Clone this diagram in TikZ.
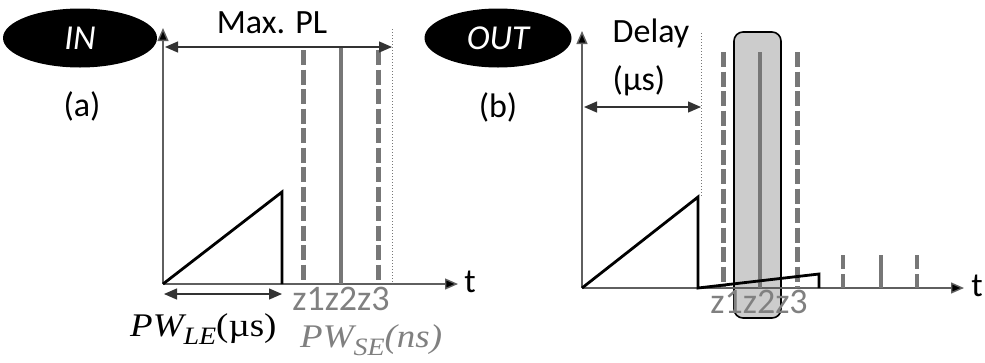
\documentclass[tikz,border=0pt]{standalone}
\usepackage{fontspec}
\setmainfont{Carlito}
\newfontfamily\serifmu{Liberation Serif}[FakeStretch=1.12]
\usetikzlibrary{arrows.meta,shapes.geometric}
\definecolor{linegray}{HTML}{777777}
\definecolor{txtgray}{HTML}{808080}
\definecolor{boxgray}{HTML}{CCCCCC}
% italic symbol with a lowered subscript, followed by a bracketed unit
\newcommand{\pwsym}[3]{{\serifmu\fontsize{33}{36}\selectfont\itshape #1%
  \raisebox{-8pt}{\fontsize{25}{27}\selectfont #2}#3}}
\tikzset{
  tag/.style={ellipse, fill=black, text=white, inner sep=0pt,
    font=\fontsize{35}{38}\selectfont\itshape},
  lbl/.style={inner sep=0pt, font=\fontsize{34}{38}\selectfont},
  glbl/.style={inner sep=0pt, anchor=base, text=txtgray,
    font=\fontsize{36}{38}\selectfont},
  axisline/.style={draw=linegray!80!black, line width=1.4pt,
    -{Triangle[length=13pt,width=11pt,fill=black]}},
  dimarrow/.style={draw=black!80, line width=1.3pt,
    {Triangle[length=13pt,width=11pt]}-{Triangle[length=13pt,width=11pt]}},
  ramp/.style={draw=black, line width=2.8pt, line join=miter},
  zdash/.style={draw=linegray, line width=5pt, dash pattern=on 15pt off 4.5pt},
  zsolid/.style={draw=linegray, line width=4pt},
  guide/.style={draw=linegray, line width=1pt, dotted},
  gate/.style={draw=black, line width=1.6pt, fill=boxgray, rounded corners=9pt}
}
\begin{document}
\begin{tikzpicture}[x=1pt,y=-1pt]
\useasboundingbox (0,0) rectangle (985,362);

% ---------- (a) input pulse ----------
\node[tag, minimum width=154pt, minimum height=59pt] (in) at (80,38) {IN};
\node[lbl] (la) at (82,106) {(a)};
\coordinate (a0) at (163,284);
\coordinate (ay) at (163,28);
\coordinate (ax) at (458,284);
\coordinate (apk) at (282,192);
\coordinate (aend) at (282,284);

\draw[axisline] (a0) -- (ay);
\draw[axisline] (a0) -- (ax);
\node[lbl] (ta) at (470,282) {t};

% short-pulse positions
\coordinate (z1t) at (303,50);  \coordinate (z1b) at (303,284);
\coordinate (z2t) at (341,47);  \coordinate (z2b) at (341,284);
\coordinate (z3t) at (378,50);  \coordinate (z3b) at (378,284);
\draw[zdash] (z1t) -- (z1b);
\draw[zsolid] (z2t) -- (z2b);
\draw[zdash] (z3t) -- (z3b);

% maximum pulse length
\coordinate (plt) at (392,29);
\coordinate (plb) at (392,284);
\draw[guide] (plt) -- (plb);
\coordinate (pll) at (165,47);
\coordinate (plr) at (392,47);
\draw[dimarrow] (pll) -- (plr);
\node[lbl] (maxpl) at (272,23) {Max. PL};

% long pulse ramp
\draw[ramp] (a0) -- (apk) -- (aend);
\coordinate (pwl) at (164,294);
\coordinate (pwr) at (282,294);
\draw[dimarrow] (pwl) -- (pwr);
\node[anchor=base west, inner sep=0pt] (pwle) at (130,336)
  {\pwsym{PW}{LE}{\upshape(µs)}};
\node[glbl] (zsa) at (341,310) {z1z2z3};
\node[anchor=base west, inner sep=0pt, text=txtgray] (pwse) at (300,347)
  {\pwsym{PW}{SE}{(ns)}};

% ---------- (b) output pulse ----------
\node[tag, minimum width=147pt, minimum height=59pt] (out) at (498,38) {OUT};
\node[lbl] (lb) at (498,107) {(b)};
\coordinate (b0) at (582,288);
\coordinate (by) at (582,31);
\coordinate (bx) at (964,288);

% gate window around z2
\node[gate, minimum width=47pt, minimum height=286pt] (win) at (757.5,175) {};

\draw[axisline] (b0) -- (by);
\draw[axisline] (b0) -- (bx);
\node[lbl] (tb) at (977,286) {t};

\coordinate (w1t) at (723,52);  \coordinate (w1b) at (723,288);
\coordinate (w2t) at (760,52);  \coordinate (w2b) at (760,288);
\coordinate (w3t) at (797,52);  \coordinate (w3b) at (797,288);
\draw[zdash] (w1t) -- (w1b);
\draw[zsolid] (w2t) -- (w2b);
\draw[zdash] (w3t) -- (w3b);

% delay
\coordinate (dlt) at (701,33);
\coordinate (dlb) at (701,197);
\draw[guide] (dlt) -- (dlb);
\coordinate (dll) at (584,107);
\coordinate (dlr) at (701,107);
\draw[dimarrow] (dll) -- (dlr);
\node[lbl] (delay) at (651,33) {Delay};
\node[lbl] (dus) at (639,81) {(µs)};

% output ramps
\coordinate (bpk) at (698,197);
\coordinate (blo) at (698,288);
\coordinate (bpk2) at (819,274);
\coordinate (bend) at (819,288);
\draw[ramp] (b0) -- (bpk) -- (blo) -- (bpk2) -- (bend);

% replicas further out
\coordinate (r1t) at (843,255); \coordinate (r1b) at (843,288);
\coordinate (r2t) at (881,255); \coordinate (r2b) at (881,288);
\coordinate (r3t) at (917,255); \coordinate (r3b) at (917,288);
\draw[zsolid, dash pattern=on 14pt off 5pt] (r1t) -- (r1b);
\draw[zsolid] (r2t) -- (r2b);
\draw[zsolid, dash pattern=on 14pt off 5pt] (r3t) -- (r3b);

\node[glbl] (zsb) at (759,313) {z1z2z3};
\end{tikzpicture}
\end{document}
